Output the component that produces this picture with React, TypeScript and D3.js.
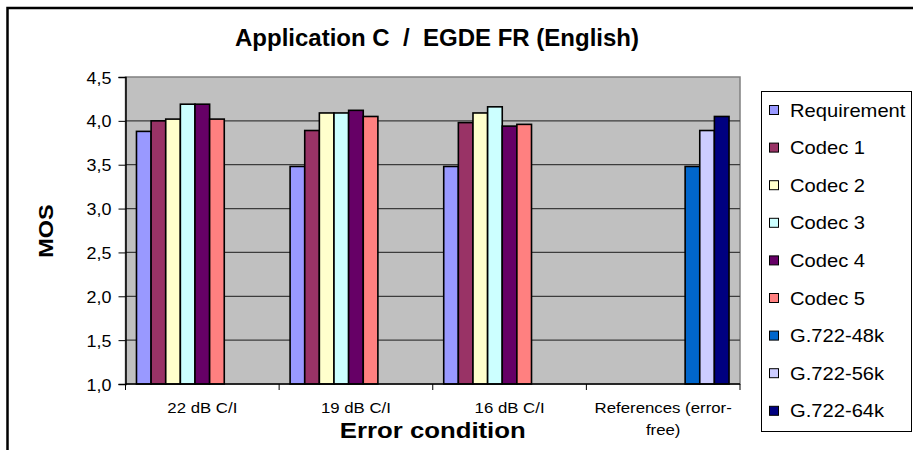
import { useEffect, useRef } from 'react';
import * as d3 from 'd3';

const categories = ['22 dB C/I', '19 dB C/I', '16 dB C/I', 'References (error-free)'];
const categoryLines = [['22 dB C/I'], ['19 dB C/I'], ['16 dB C/I'], ['References (error-', 'free)']];

const seriesNames = [
  'Requirement', 'Codec 1', 'Codec 2', 'Codec 3', 'Codec 4', 'Codec 5',
  'G.722-48k', 'G.722-56k', 'G.722-64k',
];
const seriesColors = [
  '#9999FF', '#993366', '#FFFFCC', '#CCFFFF', '#660066', '#FF8080',
  '#0066CC', '#CCCCFF', '#000080',
];

// MOS per category (null = no bar in that group)
const requirement = [3.88, 3.48, 3.48, null];
const codec1 = [4.0, 3.89, 3.98, null];
const codec2 = [4.02, 4.09, 4.09, null];
const codec3 = [4.19, 4.09, 4.16, null];
const codec4 = [4.19, 4.12, 3.94, null];
const codec5 = [4.02, 4.05, 3.96, null];
const g722_48 = [null, null, null, 3.48];
const g722_56 = [null, null, null, 3.89];
const g722_64 = [null, null, null, 4.05];

const yTicks = [1.0, 1.5, 2.0, 2.5, 3.0, 3.5, 4.0, 4.5];

const FONT = 'Arial, "Liberation Sans", sans-serif';
const SX = 1.12; // text looks a bit wide in the original

export default function App() {
  const svgRef = useRef<SVGSVGElement>(null);

  useEffect(() => {
    if (!svgRef.current) return;
    const svg = d3.select(svgRef.current);
    svg.selectAll('*').remove();

    const values = [requirement, codec1, codec2, codec3, codec4, codec5, g722_48, g722_56, g722_64];
    const plot = { left: 125.5, right: 740, top: 77, bottom: 384 };

    // chart frame
    svg.append('rect').attr('width', 913).attr('height', 450).attr('fill', '#fff');
    svg.append('path')
      .attr('d', 'M7.5,460 V8 H920')
      .attr('fill', 'none')
      .attr('stroke', '#000')
      .attr('stroke-width', 2.5);

    const x0 = d3.scaleBand().domain(categories).range([plot.left, plot.right]).padding(0);
    const gap = (x0.bandwidth() * 0.75) / 10.5;
    const x1 = d3.scaleBand().domain(seriesNames).range([gap, x0.bandwidth() - gap]).padding(0);
    const y = d3.scaleLinear().domain([1, 4.5]).range([plot.bottom, plot.top]);

    // plot area
    svg.append('rect')
      .attr('x', plot.left)
      .attr('y', plot.top)
      .attr('width', plot.right - plot.left)
      .attr('height', plot.bottom - plot.top)
      .attr('fill', '#C0C0C0')
      .attr('stroke', '#808080')
      .attr('stroke-width', 1.5);

    // grid lines
    svg.append('g')
      .selectAll('line')
      .data(yTicks.filter((t) => t > 1 && t < 4.5))
      .enter()
      .append('line')
      .attr('x1', plot.left)
      .attr('x2', plot.right)
      .attr('y1', (d) => y(d))
      .attr('y2', (d) => y(d))
      .attr('stroke', '#3c3c3c')
      .attr('stroke-width', 1.2);

    // bars
    const bars = seriesNames.flatMap((name, si) =>
      categories.map((cat, ci) => ({ name, cat, v: values[si][ci], color: seriesColors[si] }))
    ).filter((d) => d.v != null);

    svg.append('g')
      .selectAll('rect')
      .data(bars)
      .enter()
      .append('rect')
      .attr('x', (d) => (x0(d.cat) || 0) + (x1(d.name) || 0))
      .attr('y', (d) => y(d.v as number))
      .attr('width', x1.bandwidth())
      .attr('height', (d) => plot.bottom - y(d.v as number))
      .attr('fill', (d) => d.color)
      .attr('stroke', '#000')
      .attr('stroke-width', 1.6);

    // y axis
    const yAxis = svg.append('g')
      .attr('transform', `translate(${plot.left},0)`)
      .call(d3.axisLeft(y).tickValues(yTicks).tickSize(7).tickPadding(0).tickFormat((d) => d3.format('.1f')(d as number).replace('.', ',')));
    yAxis.select('.domain').attr('stroke', '#000').attr('stroke-width', 1.5);
    yAxis.selectAll('.tick line').attr('stroke', '#000');
    yAxis.selectAll('.tick text')
      .attr('x', null)
      .attr('dy', null)
      .attr('transform', `translate(-14,6) scale(${SX},1)`)
      .attr('font-family', FONT)
      .attr('font-size', 16)
      .attr('fill', '#000');

    // x axis
    const xAxis = svg.append('g').attr('transform', `translate(0,${plot.bottom})`);
    xAxis.append('line')
      .attr('x1', plot.left)
      .attr('x2', plot.right)
      .attr('stroke', '#000')
      .attr('stroke-width', 1.5);
    xAxis.selectAll('.xtick')
      .data([...categories.map((c) => x0(c) || 0), plot.right])
      .enter()
      .append('line')
      .attr('x1', (d) => d)
      .attr('x2', (d) => d)
      .attr('y1', 0)
      .attr('y2', 6)
      .attr('stroke', '#000');

    categories.forEach((cat, ci) => {
      const cx = (x0(cat) || 0) + x0.bandwidth() / 2;
      categoryLines[ci].forEach((line, li) => {
        xAxis.append('text')
          .attr('transform', `translate(${cx},${29 + li * 22}) scale(1.2,1)`)
          .attr('text-anchor', 'middle')
          .attr('font-family', FONT)
          .attr('font-size', 14)
          .text(line);
      });
    });

    // axis titles
    svg.append('text')
      .attr('transform', `translate(${(plot.left + plot.right) / 2},438) scale(${SX},1)`)
      .attr('text-anchor', 'middle')
      .attr('font-family', FONT)
      .attr('font-weight', 'bold')
      .attr('font-size', 23)
      .text('Error condition');

    svg.append('text')
      .attr('transform', `translate(53,231) rotate(-90) scale(${SX},1)`)
      .attr('text-anchor', 'middle')
      .attr('font-family', FONT)
      .attr('font-weight', 'bold')
      .attr('font-size', 21)
      .text('MOS');

    // title
    svg.append('text')
      .attr('transform', 'translate(437,46)')
      .attr('text-anchor', 'middle')
      .attr('font-family', FONT)
      .attr('font-weight', 'bold')
      .attr('font-size', 24)
      .style('white-space', 'pre')
      .text('Application C  /  EGDE FR (English)');

    // legend
    const legend = svg.append('g');
    legend.append('rect')
      .attr('x', 761.5)
      .attr('y', 91.5)
      .attr('width', 150)
      .attr('height', 340)
      .attr('fill', '#fff')
      .attr('stroke', '#000')
      .attr('stroke-width', 1);

    const items = legend.selectAll('.item')
      .data(seriesNames)
      .enter()
      .append('g')
      .attr('transform', (_d, i) => `translate(0,${110 + i * 37.6})`);
    items.append('rect')
      .attr('x', 769.5)
      .attr('y', -4.5)
      .attr('width', 9)
      .attr('height', 9)
      .attr('fill', (_d, i) => seriesColors[i])
      .attr('stroke', '#000')
      .attr('stroke-width', 1);
    items.append('text')
      .attr('transform', `translate(790,6.5) scale(${SX},1)`)
      .attr('font-family', FONT)
      .attr('font-size', 18)
      .text((d) => d);
  }, []);

  return (
    <svg
      ref={svgRef}
      width={913}
      height={450}
      style={{ position: 'absolute', left: 0, top: 0, display: 'block' }}
    />
  );
}
